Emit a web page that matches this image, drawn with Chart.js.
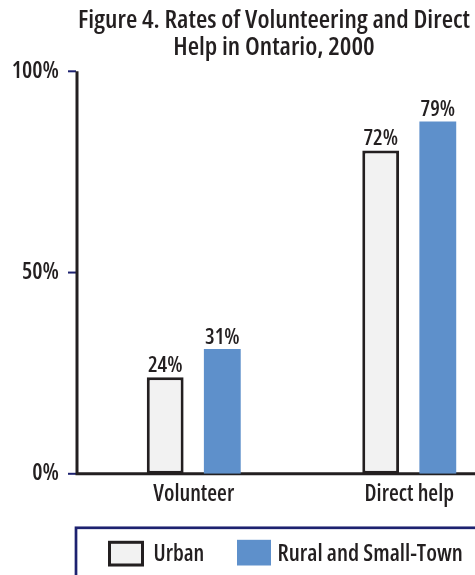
<!DOCTYPE html>
<html><head><meta charset="utf-8">
<script src="https://cdn.jsdelivr.net/npm/chart.js@4"></script>
<style>
html,body{margin:0;padding:0;overflow:hidden;background:#fff;width:475px;height:575px}
#wrap{position:absolute;left:0;top:0;width:545px;height:600px}
</style></head>
<body><div id="wrap"><canvas id="c" width="545" height="600"></canvas></div>
<script>
// ---- data ----
const categories = ['Volunteer', 'Direct help'];
const seriesNames = ['Urban', 'Rural and Small-Town'];
const urbanValues = [24, 80.3];          // bar heights as drawn
const ruralValues = [31, 87.5];          // bar heights as drawn
const urbanLabels = ['24%', '72%'];      // printed value labels
const ruralLabels = ['31%', '79%'];
const yTickValues = [0, 50, 100];
const titleLines = ['Figure 4. Rates of Volunteering and Direct', 'Help in Ontario, 2000'];

const FAMILY = "'Open Sans', 'Roboto', sans-serif";
const WEIGHT = '600 condensed';
const TEXT = '#231f20';
const NAVY = '#1d2270';
const BLUE = '#5e90cb';
const LIGHT = '#f2f2f2';

const valueLabels = [urbanLabels, ruralLabels];

const titlePlugin = {
  id: 'twoLineTitle',
  afterDraw(chart) {
    const {ctx} = chart;
    ctx.save();
    ctx.font = `normal ${WEIGHT} 26px ${FAMILY}`;
    ctx.fillStyle = TEXT; ctx.textAlign = 'center'; ctx.textBaseline = 'alphabetic';
    const cx = chart.width / 2 + 1.5;
    titleLines.forEach((t, i) => ctx.fillText(t, cx, 27.5 + i * 27.5));
    ctx.restore();
  }
};

const axisPlugin = {
  id: 'axisLines',
  beforeDatasetsDraw(chart) {
    const {ctx, chartArea} = chart;
    const y = chart.scales.y;
    const axX = chartArea.left - 9;
    ctx.save();
    ctx.strokeStyle = NAVY; ctx.lineWidth = 2;
    yTickValues.forEach(v => {
      const py = y.getPixelForValue(v);
      ctx.beginPath(); ctx.moveTo(axX - 9, py); ctx.lineTo(axX - 1, py); ctx.stroke();
    });
    ctx.strokeStyle = TEXT; ctx.lineWidth = 3;
    const top = y.getPixelForValue(100), bot = y.getPixelForValue(0);
    ctx.beginPath(); ctx.moveTo(axX, top); ctx.lineTo(axX, bot); ctx.lineTo(chart.width, bot); ctx.stroke();
    ctx.restore();
  }
};

const labelPlugin = {
  id: 'valueLabels',
  afterDatasetsDraw(chart) {
    const {ctx} = chart;
    ctx.save();
    ctx.font = `normal ${WEIGHT} 21.5px ${FAMILY}`;
    ctx.fillStyle = TEXT; ctx.textAlign = 'center'; ctx.textBaseline = 'alphabetic';
    chart.data.datasets.forEach((ds, i) => {
      chart.getDatasetMeta(i).data.forEach((el, j) => {
        ctx.fillText(valueLabels[i][j], el.x, el.y - 5.5);
      });
    });
    ctx.restore();
  }
};

const legendPlugin = {
  id: 'boxLegend',
  afterDraw(chart) {
    const {ctx, chartArea} = chart;
    const top = chartArea.bottom + 54;
    const left = chartArea.left - 10;
    ctx.save();
    ctx.strokeStyle = NAVY; ctx.lineWidth = 2.7;
    ctx.strokeRect(left, top, chart.width, 200);
    const ds = chart.data.datasets;
    ctx.textBaseline = 'middle'; ctx.textAlign = 'left';
    ctx.fillStyle = ds[0].backgroundColor;
    ctx.fillRect(left + 32, top + 13, 36, 25.7);
    ctx.strokeStyle = ds[0].borderColor; ctx.lineWidth = 3;
    ctx.strokeRect(left + 33.5, top + 14.5, 33, 22.7);
    ctx.fillStyle = TEXT;
    ctx.font = `normal ${WEIGHT} 22.5px ${FAMILY}`;
    ctx.fillText(ds[0].label, left + 77.5, top + 27);
    ctx.fillStyle = ds[1].backgroundColor;
    ctx.fillRect(left + 161, top + 12, 34, 25.7);
    ctx.fillStyle = TEXT;
    ctx.font = `normal ${WEIGHT} 23.2px ${FAMILY}`;
    ctx.fillText(ds[1].label, left + 201.5, top + 27);
    ctx.restore();
  }
};

new Chart(document.getElementById('c'), {
  type: 'bar',
  data: {
    labels: categories,
    datasets: [
      { label: seriesNames[0], data: urbanValues, backgroundColor: LIGHT, borderColor: TEXT, borderWidth: 3, borderSkipped: false },
      { label: seriesNames[1], data: ruralValues, backgroundColor: BLUE, borderWidth: 0 }
    ]
  },
  options: {
    responsive: false,
    animation: false,
    devicePixelRatio: 1,
    layout: { padding: { left: 0, right: 28, top: 71.3, bottom: 86.2 } },
    datasets: { bar: { categoryPercentage: 0.53, barPercentage: 0.645 } },
    plugins: {
      legend: { display: false },
      tooltip: { enabled: false },
      title: { display: false }
    },
    scales: {
      x: {
        grid: { display: false, drawTicks: false },
        border: { display: false },
        ticks: { color: TEXT, padding: 7.3, font: { family: FAMILY, weight: WEIGHT, size: 22.5 } },
        afterFit(s) { s.height = 40; }
      },
      y: {
        min: 0, max: 100,
        afterBuildTicks(s) { s.ticks = yTickValues.map(v => ({ value: v })); },
        grid: { display: false, drawTicks: false },
        border: { display: false },
        ticks: { color: TEXT, padding: 27, font: { family: FAMILY, weight: WEIGHT, size: 23 }, callback: v => v + '%' },
        afterFit(s) { s.width = 86; }
      }
    }
  },
  plugins: [axisPlugin, labelPlugin, legendPlugin, titlePlugin]
});
</script></body></html>
